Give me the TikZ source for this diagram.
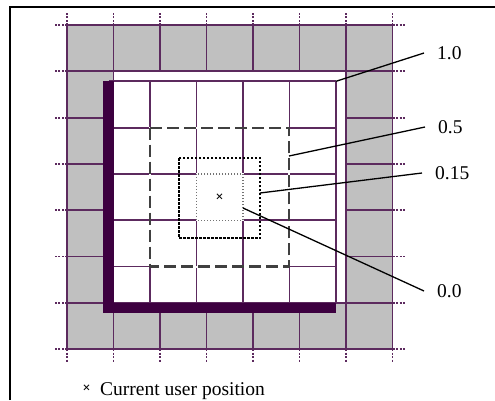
\documentclass[tikz,border=0pt]{standalone}
\usepackage{fontspec}
\setmainfont{Liberation Serif}
\usetikzlibrary{calc}

\definecolor{gridline}{HTML}{5C2A5E}
\definecolor{wallbar}{HTML}{3D0040}
\definecolor{ringgray}{HTML}{C0C0C0}

\begin{document}
\begin{tikzpicture}[x=1pt, y=-1pt, line cap=butt, line join=miter,
  gridln/.style={draw=gridline, line width=1.8pt},
  tickln/.style={draw=gridline, line width=1.8pt, dash pattern=on 2pt off 1.5pt},
  lead/.style={draw=black, line width=1.3pt},
  lbl/.style={font=\fontsize{19.5}{22}\selectfont, inner xsep=13pt, inner ysep=0pt, anchor=west},
  posmark/.style={font=\fontsize{14}{14}\selectfont\bfseries, inner sep=0pt}]
  \useasboundingbox (0,0) rectangle (495,400);

  % Frame (left and top edges only)
  \draw[line width=2.3pt] (10.3,400) -- (10.3,6.7) -- (495,6.7);

  % Outer grid: gray ring with purple lines and dotted ticks
  \fill[ringgray] (67,25) rectangle (392.5,349.1);
  \foreach \i in {0,...,7} {
    \draw[gridln] (67+46.5*\i,25) -- (67+46.5*\i,349.1);
    \draw[gridln] (67,25+46.3*\i) -- (392.5,25+46.3*\i);
    \draw[tickln] (67+46.5*\i,25) -- (67+46.5*\i,12);
    \draw[tickln] (67+46.5*\i,349.1) -- (67+46.5*\i,362);
    \draw[tickln] (67,25+46.3*\i) -- (54,25+46.3*\i);
    \draw[tickln] (392.5,25+46.3*\i) -- (405,25+46.3*\i);
  }
  \fill[white] (114.4,72.2) rectangle (345.1,301.9);

  % Inner grid, shifted down-left
  \foreach \k in {1,...,5}
    \draw[gridln] (103.5+46.5*\k,81.3) -- (103.5+46.5*\k,303);
  \foreach \k in {0,...,4}
    \draw[gridln] (109,81.3+46.3*\k) -- (336,81.3+46.3*\k);

  % Zone 0.5 (dashed)
  \draw[white, line width=2pt] (150,127.6) rectangle (289,266.5);
  \draw[black!75, line width=2.2pt, dash pattern=on 12pt off 5pt] (150,127.6) rectangle (289,266.5);

  % Zone 0.15 (short dashes)
  \draw[black, line width=1.6pt, dash pattern=on 2.5pt off 1.5pt] (179,158) rectangle (260,238);

  % Zone 0.0 (fine dots)
  \draw[white, line width=2pt] (196.5,173.9) rectangle (243,220.2);
  \draw[black!55, line width=1.3pt, dash pattern=on 1pt off 2pt] (196.5,173.9) rectangle (243,220.2);

  % Thick wall along left and bottom
  \draw[wallbar, line width=10.5pt] (108.7,81.3) -- (108.7,307.8) -- (336,307.8);

  % User position
  \node[posmark] (user) at (219.5,198) {×};

  % Labels and leader lines
  \coordinate (c10) at (336,81.3);
  \coordinate (c05) at (289,156);
  \coordinate (c015) at (260,193);
  \coordinate (c00) at (243,208);
  \node[lbl] (l10) at (424,53) {1.0};
  \node[lbl] (l05) at (425,127) {0.5};
  \node[lbl] (l015) at (422,173) {0.15};
  \node[lbl] (l00) at (424,291) {0.0};
  \draw[lead] (c10) -- (l10.west);
  \draw[lead] (c05) -- (l05.west);
  \draw[lead] (c015) -- (l015.west);
  \draw[lead] (c00) -- (l00.west);

  % Legend
  \node[posmark] (keymark) at (86.5,389) {×};
  \node[font=\fontsize{19.5}{22}\selectfont, anchor=base west, inner sep=0pt] (keytext) at (100,395) {Current user position};
\end{tikzpicture}
\end{document}
